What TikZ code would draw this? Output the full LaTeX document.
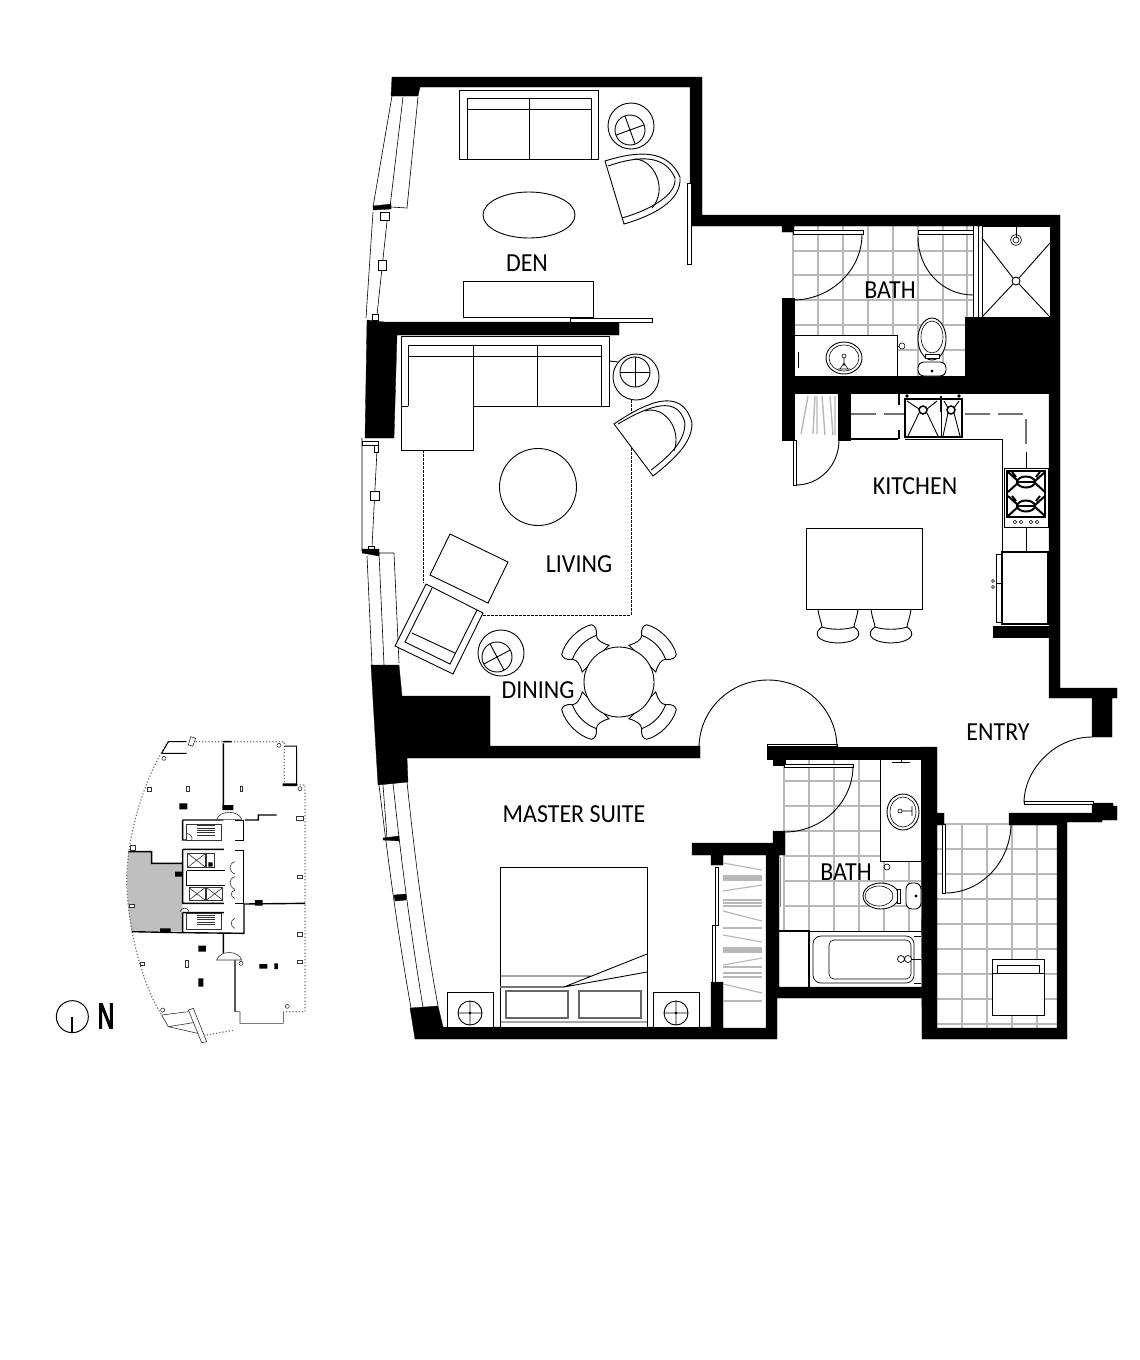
\documentclass[tikz,border=0pt]{standalone}
\usepackage{fontspec}
\newfontfamily\labelfont[FakeStretch=0.92]{Carlito}
\newfontfamily\northfont[FakeStretch=0.62,FakeBold=3]{Liberation Sans}
\usetikzlibrary{positioning}

\tikzset{
    wall/.style={fill=black, draw=black, line width=0.3pt, line join=miter},
    line/.style={draw=black, line width=0.9pt},
    furn/.style={draw=black, fill=white, line width=0.9pt},
    leaf/.style={draw=black, fill=white, line width=0.7pt},
    fine/.style={draw=black, line width=0.6pt},
    heavy/.style={draw=black, line width=2pt},
    tile/.style={draw=black!28, line width=1.6pt},
    hang/.style={draw=black!28, line width=1.4pt},
    hidden/.style={draw=black!55, line width=1.5pt, dash pattern=on 25pt off 8pt},
    roomlabel/.style={font=\labelfont\fontsize{26}{26}\selectfont, inner sep=0pt},
    keyline/.style={draw=black!80, line width=0.6pt},
    keywall/.style={draw=black, line width=1pt},
    keyedge/.style={draw=black!55, line width=1.2pt, dotted}
}

\begin{document}
\begin{tikzpicture}[x=1pt, y=-1pt]
    \useasboundingbox (0,0) rectangle (1140,1360);

    % Tiles
    \foreach \x in {793,818,843,868,893,918,943,967}
        \draw[tile] (\x,226) -- (\x,376);
    \foreach \y in {251,275,300,325,350}
        \draw[tile] (794,\y) -- (973,\y);
    \foreach \x in {784,809,834,859,884,909}
        \draw[tile] (\x,759) -- (\x,931);
    \foreach \y in {781,806,831,856,881,906}
        \draw[tile] (784,\y) -- (921,\y);
    \foreach \x in {962,987,1012,1037}
        \draw[tile] (\x,825) -- (\x,1028);
    \foreach \y in {824,849,874,899,924,949,974,999,1024}
        \draw[tile] (937,\y) -- (1057,\y);

    % Outer walls
    \fill[wall] (392,77) -- (702,77) -- (702,215) -- (1060,215) -- (1060,688) -- (1117,688)
        -- (1117,698) -- (1112,698) -- (1112,737) -- (1092,737) -- (1092,698) -- (1049,698)
        -- (1049,226) -- (794,226) -- (794,232) -- (782,232) -- (782,226) -- (690,226)
        -- (690,87) -- (420,87) -- (418,96) -- (391,96) -- cycle;
    \fill[wall] (1092,803) -- (1113,803) -- (1113,806) -- (1117,806) -- (1117,820) -- (1102,820)
        -- (1102,822) -- (1067,822) -- (1067,1039) -- (922,1039) -- (921,747) -- (937,747)
        -- (937,813) -- (944,813) -- (944,825) -- (937,825) -- (937,1028) -- (1057,1028)
        -- (1057,825) -- (1009,825) -- (1009,813) -- (1092,813) -- cycle;

    % Inner walls
    \fill[wall] (367,320) -- (384,322) -- (619,322) -- (619,335) -- (397,335) -- (394,438) -- (365,438) -- cycle;
    \fill[wall] (371,665) -- (399,665) -- (402,696) -- (490,696) -- (490,746) -- (700,746) -- (700,758)
        -- (407,758) -- (408,782) -- (378,785) -- cycle;
    \fill[wall] (782,298) -- (794,298) -- (794,376) -- (965,376) -- (965,317) -- (1050,317) -- (1050,393)
        -- (850,393) -- (850,440) -- (838,440) -- (838,393) -- (794,393) -- (794,440) -- (782,440) -- cycle;
    \fill[wall] (993,626) -- (1050,626) -- (1050,637) -- (993,637) -- cycle;
    \fill[wall] (767,747) -- (925,747) -- (925,759) -- (785,759) -- (785,765) -- (773,765) -- (773,759) -- (767,759) -- cycle;
    \fill[wall] (692,843) -- (773,843) -- (773,831) -- (785,831) -- (785,855) -- (779,855) -- (779,987)
        -- (925,987) -- (925,998) -- (777,998) -- (777,1039) -- (415,1039) -- (410,1008) -- (438,1006) -- (443,1027)
        -- (711,1027) -- (711,982) -- (723,982) -- (723,1028) -- (766,1028) -- (766,855) -- (723,855) -- (723,865)
        -- (711,865) -- (711,855) -- (692,855) -- cycle;

    % Windows
    \draw[fine] (392,96) -- (373,207) (403,97) -- (390,207) (418,97) -- (407,208) -- (391,207);
    \fill[wall] (373,206) -- (391,204) -- (391,209) -- (373,210) -- cycle;
    \draw[fine] (373,212) -- (366,318) (388,212) -- (377,315);
    \draw[leaf] (380,212) rectangle (389,220) (378,260) rectangle (386,270) (372,314) rectangle (378,320);
    \draw[fine] (362,438) -- (362,551) (377,450) -- (372,547);
    \draw[leaf] (362,441) rectangle (378,445) (374,445) rectangle (378,452) (370,491) rectangle (379,500) (368,546) rectangle (374,551);
    \fill[wall] (362,549) -- (379,549) -- (379,556) -- (362,553) -- cycle;
    \draw[fine] (367,556) -- (372,665) (379,553) -- (384,665) (394,553) -- (399,663) (379,553) -- (394,553);
    \draw[fine] (379,785) .. controls (388,860) and (398,935) .. (411,1008)
        (393,783) .. controls (401,860) and (411,935) .. (423,1007)
        (407,782) .. controls (415,860) and (425,935) .. (438,1006)
        (383,785) -- (387,838);
    \fill[wall] (383,838) -- (399,836) -- (399,841) -- (383,840) -- cycle;
    \fill[wall] (394,895) -- (406,894) -- (406,900) -- (395,901) -- cycle;

    % Doors
    \draw[leaf] (793,230) rectangle (863,234) (918,230) rectangle (973,234)
        (793,440) rectangle (796,485) (1024,801) rectangle (1093,804)
        (942,824) rectangle (945,893) (784,764) rectangle (853,767)
        (767,744) rectangle (837,746) (570,318) rectangle (652,322) (687,183) rectangle (691,264)
        (715,867) rectangle (718,925) (712,925) rectangle (715,982);
    \draw[line] (862,234) .. controls (862,271) and (830,300) .. (793,300);
    \draw[line] (918,237) .. controls (918,269) and (942,295) .. (973,295);
    \draw[line] (839,440) .. controls (839,465) and (820,485) .. (796,485);
    \draw[line] (1092,737) .. controls (1054,737) and (1024,770) .. (1024,803);
    \draw[line] (1011,823) .. controls (1011,861) and (982,893) .. (945,893);
    \draw[line] (853,766) .. controls (853,802) and (822,832) .. (785,832);
    \draw[line] (699,748) .. controls (699,710) and (730,680) .. (768,680) .. controls (806,680) and (837,710) .. (837,748);

    % Closets
    \draw[hang] (808,396) -- (801,434) (815,396) -- (813,434) (817,396) -- (817,434)
        (822,396) -- (825,435) (830,396) -- (833,435) (835,396) -- (835,435);
    \foreach \ya/\yb in {863/870,876/876,878/878,880/880,891/885,900/900,903/903,906/906,911/921,928/928,935/942,948/948,950/950,952/952,965/958,967/967,973/973,977/977,984/993,1001/1001}
        \draw[hang, line width=1.2pt] (723,\ya) -- (762,\yb);

    % Den
    \draw[furn] (459,90) rectangle (598,159);
    \draw[furn] (467,98) rectangle (591,159);
    \draw[line] (467,109) -- (591,109) (529,98) -- (529,159);
    \draw[furn] (529,215) ellipse [x radius=46, y radius=23];
    \draw[furn] (463,281) rectangle (593,317);
    \draw[furn] (605,161) .. controls (640,150) and (668,150) .. (680,177) .. controls (682,200) and (655,215) .. (624,224) -- cycle;
    \draw[line] (608,166) .. controls (640,155) and (665,155) .. (675,178) .. controls (677,195) and (650,210) .. (622,218);
    \draw[line] (635,159) .. controls (655,160) and (668,190) .. (652,208);

    % Side tables
    \foreach \cx/\cy/\ix/\iy/\rot in {631/126/630/130/20, 636/377/635/372/0, 501/653/497/657/28} {
        \draw[furn] (\cx,\cy) circle [radius=23];
        \draw[furn] (\ix,\iy) circle [radius=15];
        \draw[line, rotate around={\rot:(\ix,\iy)}] (\ix-15,\iy) -- (\ix+15,\iy) (\ix,\iy-15) -- (\ix,\iy+15);
    }

    % Living
    \draw[fine, dash pattern=on 3pt off 1pt] (423,450) -- (423,583) (483,615) -- (631,615) -- (631,400);
    \draw[furn] (401,336) -- (609,336) -- (609,406) -- (473,406) -- (473,450) -- (401,450) -- cycle;
    \draw[line] (408,406) -- (401,406) (408,406) -- (408,345) -- (601,345) -- (601,406)
        (408,356) -- (601,356) (473,345) -- (473,406) (537,345) -- (537,406);
    \draw[line] (609,361) -- (618,362);
    \draw[furn] (538,487) circle [radius=38.5];
    \draw[furn] (614,424) .. controls (645,403) and (682,385) .. (692,423) .. controls (692,440) and (680,455) .. (653,476) -- cycle;
    \draw[line] (618,424) .. controls (650,405) and (678,395) .. (685,423) .. controls (685,438) and (675,452) .. (651,470);
    \draw[line] (645,411) .. controls (665,405) and (682,430) .. (674,451);
    \draw[furn] (450,534) -- (508,562) -- (488,603) -- (430,575) -- cycle;
    \draw[furn] (426,584) -- (483,613) -- (453,674) -- (395,646) -- cycle;
    \draw[line] (432,588) -- (405,642) -- (450,664) -- (477,610) (412,633) -- (455,653);

    % Dining
    \foreach \ang in {45,135,225,315} {
        \begin{scope}[shift={(619,682)}, rotate=\ang]
            \draw[furn] (33,-19) .. controls (40,-15) and (46,-14) .. (49,-17)
                .. controls (53,-22) and (57,-23) .. (60,-21)
                .. controls (67,-10) and (67,10) .. (60,21)
                .. controls (57,23) and (53,22) .. (49,17)
                .. controls (46,14) and (40,15) .. (33,19) -- cycle;
            \draw[line] (49,-17) .. controls (54,-6) and (54,6) .. (49,17);
        \end{scope}
    }
    \draw[furn] (619,682) circle [radius=35];

    % Kitchen
    \draw[line] (905,439) -- (1002,439) -- (1002,552);
    \draw[heavy] (851,439) -- (898,439);
    \draw[heavy] (898.5,394) -- (898.5,405) (898.5,430) -- (898.5,439);
    \draw[hidden] (851,414) -- (905,414) (965,414) -- (1026,414) -- (1026,445);
    \draw[furn, line width=1.4pt] (905,399) rectangle (962,437);
    \draw[line] (941,399) -- (941,437);
    \draw[line] (907,401) -- (919,409) (937,401) -- (927,409) (919,413) -- (908,436) (927,413) -- (938,436);
    \draw[line] (944,401) -- (948,408) (959,401) -- (954,408) (948,413) -- (943,436) (954,413) -- (960,436);
    \draw[furn, line width=1.5pt] (923,410) circle [radius=4] (951,410) circle [radius=4];
    \fill (907,396) circle [radius=1.8] (959,396) circle [radius=1.8];
    \draw[heavy] (941,396) -- (941,412);
    \draw[line] (1026,452) -- (1026,468) (1026,527) -- (1026,552);
    \draw[draw=black, fill=white, line width=1pt] (1004,468) rectangle (1048,527);
    \draw[draw=black, fill=white, line width=2.6pt] (1007,471) rectangle (1045,517);
    \foreach \by in {482,506} {
        \draw[draw=black, line width=2pt] (1019,\by) -- (1008,\by-10) (1034,\by) -- (1045,\by-10)
            (1019,\by) -- (1008,\by+10) (1034,\by) -- (1045,\by+10)
            (1012,\by-10) -- (1016,\by-5) (1040,\by-10) -- (1036,\by-5);
        \draw[draw=black, fill=white, line width=2pt] (1026,\by) ellipse [x radius=9, y radius=5.5];
        \draw[draw=black, line width=1.6pt] (1017,\by) -- (1035,\by);
    }
    \foreach \kx in {1015,1021,1031,1037}
        \draw[fine] (\kx,522) circle [radius=1.8];
    \draw[draw=black, line width=1.6pt, fill=white] (1002,552) rectangle (1048,624);
    \draw[furn] (996,554) rectangle (1001,622);
    \draw[line] (996,583) -- (1002,583);
    \draw[fine] (993,581) circle [radius=1.5] (993,587) circle [radius=1.5];
    \draw[furn] (806,528) rectangle (922,609);
    \foreach \sx in {838,891} {
        \draw[line] (\sx-20,609) .. controls (\sx-19,618) and (\sx-16,624) .. (\sx-16,627)
            .. controls (\sx-24,632) and (\sx-24,642) .. (\sx,643)
            .. controls (\sx+24,642) and (\sx+24,632) .. (\sx+16,627)
            .. controls (\sx+16,624) and (\sx+19,618) .. (\sx+20,609);
        \draw[line] (\sx-16,627) .. controls (\sx-8,630) and (\sx+8,630) .. (\sx+16,627);
    }

    % Upper bath
    \draw[fine] (973,226) -- (973,317) (978,226) -- (978,317);
    \draw[furn] (982,226) rectangle (1050,317);
    \draw[line] (982,238) -- (1013,278) (1050,243) -- (1019,278) (982,317) -- (1013,284) (1050,317) -- (1019,284);
    \draw[furn] (1016,281) circle [radius=4];
    \draw[fine] (1016,226) -- (1016,238);
    \draw[fine] (1016,240) circle [radius=5.5] (1016,240) circle [radius=3];
    \draw[furn] (794,335) rectangle (897,376);
    \draw[fine] (798,352) -- (798,368);
    \draw[furn] (844,358) ellipse [x radius=18, y radius=16];
    \draw[fine] (844,358) ellipse [x radius=15, y radius=13];
    \draw[fine] (844,356) circle [radius=2] (844,358) -- (844,366) (838,369) -- (850,369) (840,369) -- (844,363) -- (848,369);
    \draw[fine] (902,346) circle [radius=3];
    \draw[fine] (897,346) -- (899,346);
    \draw[furn] (932,339) ellipse [x radius=14, y radius=21];
    \draw[fine] (932,337) ellipse [x radius=11, y radius=16];
    \draw[leaf] (925,354) rectangle (939,358);
    \draw[furn, rounded corners=6pt] (918,362) -- (946,362) -- (946,376) -- (918,376) -- cycle;
    \fill (932,371) circle [radius=1.6];

    % Lower bath
    \draw[leaf] (880,759) rectangle (921,861);
    \draw[fine] (892,762) -- (910,762) (901,760) -- (901,762);
    \draw[furn] (903,812) ellipse [x radius=16, y radius=18];
    \draw[fine] (903,812) ellipse [x radius=13, y radius=15];
    \draw[fine] (900,811) circle [radius=2] (902,811) -- (912,811) (912,806) -- (912,816);
    \draw[fine] (887,867) circle [radius=3];
    \draw[draw=black!50, line width=1pt] (780,857) -- (780,907);
    \draw[furn] (881,896) ellipse [x radius=18, y radius=13];
    \draw[fine] (879,896) ellipse [x radius=14, y radius=10];
    \draw[leaf] (897,889) rectangle (900,903);
    \draw[furn, rounded corners=6pt] (906,883) rectangle (921,909);
    \fill (916,896) circle [radius=1.6];
    \draw[line] (779,931) -- (921,931);
    \draw[heavy] (779,931) -- (809,931) -- (809,987);
    \draw[leaf, rounded corners=8pt] (813,936) rectangle (914,983);
    \draw[fine, rounded corners=5pt] (829,940) rectangle (911,979);
    \draw[fine] (914,936) -- (921,936) (914,983) -- (921,983) (906,959) -- (921,959);
    \draw[leaf] (901,959) circle [radius=3.5] (908,959) circle [radius=3.5];

    % Washer
    \draw[leaf] (992,959) rectangle (1044,1015);
    \draw[fine] (992,973) -- (1044,973);
    \draw[leaf] (997,965) rectangle (1039,973);

    % Master suite
    \draw[furn] (500,867) rectangle (647,1027);
    \draw[line] (500,976) -- (590,976) (647,954) -- (564,987) -- (647,972) (500,1022) -- (647,1022);
    \draw[draw=black!55, line width=1.5pt] (500,987) -- (564,987);
    \draw[draw=black!60, line width=1.5pt] (506,991) rectangle (568,1018) (579,991) rectangle (641,1018);
    \foreach \nx in {447,653} {
        \draw[furn] (\nx,992) rectangle (\nx+46,1027);
        \draw[line] (\nx+23,1013) circle [radius=12] (\nx+11,1013) -- (\nx+35,1013) (\nx+23,1001) -- (\nx+23,1025);
        \fill (\nx+23,1013) circle [radius=1.3];
    }

    % Room labels
    \node[roomlabel] (den) at (527,263) {DEN};
    \node[roomlabel] (upperbath) at (890,290) {BATH};
    \node[roomlabel] (kitchen) at (915,486) {KITCHEN};
    \node[roomlabel] (living) at (579,564) {LIVING};
    \node[roomlabel] (dining) at (538,690) {DINING};
    \node[roomlabel] (entry) at (998,732) {ENTRY};
    \node[roomlabel] (master) at (574,814) {MASTER SUITE};
    \node[roomlabel] (lowerbath) at (846,872) {BATH};

    % Key plan
    \begin{scope}[shift={(40,730)}, scale=1/3]
        \fill[black!25] (265,365) -- (335,365) -- (335,400) -- (427,400) -- (427,603) -- (275,603)
            .. controls (262,540) and (258,450) .. (265,365) -- cycle;
        \draw[keyedge] (385,35) .. controls (320,130) and (262,300) .. (260,450)
            .. controls (262,600) and (310,770) .. (365,855);
        \draw[keyedge] (467,35) -- (733,35) -- (733,160) (770,165) -- (795,165) -- (795,845) -- (730,845)
            (500,915) -- (585,900);
        \draw[keywall] (385,35) -- (440,35) (365,70) -- (440,70) (385,35) -- (365,70)
            (733,48) -- (770,48) -- (770,165) -- (730,165);
        \draw[keyline] (365,855) -- (445,845) (385,890) -- (460,878) (365,855) -- (385,890) -- (495,915)
            (730,845) -- (730,880) -- (600,880) -- (600,845) -- (585,845);
        \draw[keyline, fill=white] (445,45) -- (452,20) -- (467,25) -- (458,48) -- cycle
            (445,840) -- (460,835) -- (500,935) -- (485,938) -- cycle;
        \draw[keywall, line width=1.4pt] (550,40) -- (550,225) (548,35) -- (575,35) (265,365) -- (335,365) -- (335,400) -- (427,400)
            (275,605) -- (430,608) (430,608) -- (612,610) -- (612,522) (615,270) -- (655,270) -- (655,255) -- (710,255) (612,522) -- (795,520)
            (585,690) -- (585,845) (550,610) -- (550,670)
            (428,270) -- (550,270) (428,270) -- (428,330) -- (440,330) (430,358) -- (552,358) (428,358) -- (428,520) -- (552,520)
            (428,548) -- (428,605) (428,548) -- (552,548);
        \draw[keyline] (440,282) rectangle (545,330) (440,550) rectangle (545,597)
            (443,370) rectangle (497,412) (500,370) rectangle (522,412)
            (447,473) rectangle (495,510) (500,473) rectangle (548,510);
        \draw[keywall] (440,422) -- (555,422) (440,422) -- (440,465) -- (555,465)
            (585,272) -- (612,272) -- (612,330) -- (585,330) (585,360) -- (610,360) -- (610,520) -- (585,520);
        \draw[keyline] (443,370) -- (497,412) (497,370) -- (443,412)
            (447,473) -- (495,510) (495,473) -- (447,510) (500,473) -- (548,510) (548,473) -- (500,510);
        \foreach \sty in {287,294,301,308,315,555,562,569,576,583}
            \draw[keyline, line width=0.5pt] (472,\sty) -- (525,\sty);
        \draw[keyline, fill=white] (530,690) .. controls (540,660) and (595,660) .. (605,690) -- cycle
            (530,268) .. controls (540,240) and (595,240) .. (605,268) -- cycle;
        \draw[keyline] (585,395) .. controls (565,400) and (565,425) .. (585,432)
            (585,440) .. controls (565,445) and (565,470) .. (585,478)
            (585,480) .. controls (570,485) and (570,500) .. (585,505)
            (585,565) .. controls (570,570) and (570,590) .. (585,595)
            (440,310) .. controls (455,312) and (458,325) .. (455,330)
            (420,545) .. controls (425,530) and (445,530) .. (448,548);
        \fill (418,220) rectangle (442,238) (547,225) rectangle (580,240) (405,425) rectangle (428,440)
            (360,595) rectangle (392,608) (475,647) rectangle (498,665) (658,702) rectangle (682,716)
            (703,700) rectangle (714,717) (475,745) rectangle (490,770) (645,510) rectangle (668,527)
            (728,160) rectangle (770,168) (505,397) rectangle (518,410);
        \draw[keyline, fill=white] (268,522) rectangle (283,532) (322,172) rectangle (335,184) (440,170) rectangle (448,184)
            (600,170) rectangle (608,184) (772,435) rectangle (786,445) (772,608) rectangle (786,618) (772,690) rectangle (786,700)
            (436,692) rectangle (446,712) (300,697) rectangle (314,707) (270,345) rectangle (285,362) (770,258) rectangle (790,272);
        \draw[keyline] (372,85) circle [radius=6] (717,46) circle [radius=6] (780,176) circle [radius=6]
            (368,840) circle [radius=6] (742,829) circle [radius=6] (603,700) circle [radius=6];
        \draw[line width=1pt] (97,860) circle [radius=48];
        \draw[line width=2pt] (97,860) -- (97,908);
        \node[font=\northfont\fontsize{36}{36}\selectfont, inner sep=0pt] (north) at (198,858) {N};
    \end{scope}

\end{tikzpicture}
\end{document}
